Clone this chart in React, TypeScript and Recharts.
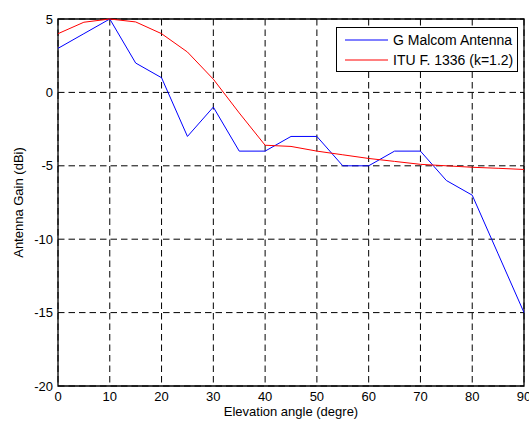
import React from 'react';
import {
  LineChart,
  Line,
  XAxis,
  YAxis,
  CartesianGrid,
  Legend,
  ReferenceArea
} from 'recharts';

const malcomAngles = [0, 5, 10, 15, 20, 25, 30, 35, 40, 45, 50, 55, 60, 65, 70, 75, 80, 85, 90];
const malcomGain = [3, 4, 5, 2, 1, -3, -1, -4, -4, -3, -3, -5, -5, -4, -4, -6, -7, -11, -15];

// ITU-R F.1336 reference pattern
const ituAngles = [0, 5, 10, 15, 20, 25, 30, 35, 40, 45, 50, 55, 60, 65, 70, 75, 80, 85, 90];
const ituGain = [4, 4.78, 5, 4.8, 4, 2.75, 0.9, -1.4, -3.6, -3.68, -4.0, -4.25, -4.5, -4.7, -4.9, -5.0, -5.1, -5.17, -5.25];

const xTicks = [0, 10, 20, 30, 40, 50, 60, 70, 80, 90];
const yTicks = [-20, -15, -10, -5, 0, 5];

const malcomData = malcomAngles.map((angle, i) => ({ angle, gain: malcomGain[i] }));
const ituData = ituAngles.map((angle, i) => ({ angle, gain: ituGain[i] }));

const FONT = '"Liberation Sans", Arial, Helvetica, sans-serif';

const LegendBox = ({ payload }: any) => (
  <div
    style={{
      width: 182,
      height: 45,
      boxSizing: 'border-box',
      border: '1px solid #000',
      background: '#fff',
      paddingTop: 2,
      fontFamily: FONT,
      fontSize: 14,
      color: '#000'
    }}
  >
    {(payload || []).map((p: any) => (
      <div key={p.value} style={{ display: 'flex', alignItems: 'center', height: 20 }}>
        <svg width={43} height={4} style={{ marginLeft: 8, marginRight: 5 }}>
          <line x1={0} y1={2} x2={43} y2={2} stroke={p.color} strokeWidth={1} />
        </svg>
        <span style={{ whiteSpace: 'nowrap' }}>{p.value}</span>
      </div>
    ))}
  </div>
);

const YLabel = ({ viewBox }: any) => {
  const x = viewBox.x + 23;
  const y = viewBox.y + viewBox.height / 2;
  return (
    <text x={x} y={y} transform={`rotate(-90, ${x}, ${y})`} textAnchor="middle" fontSize={13} fill="#000" fontFamily={FONT}>
      Antenna Gain (dBi)
    </text>
  );
};

export default function App() {
  return (
    <div style={{ position: 'absolute', left: 0, top: 0, width: 529, height: 421, background: '#fff', fontFamily: FONT }}>
      <LineChart width={529} height={421} margin={{ top: 19, right: 5, left: 0, bottom: 0 }}>
        <CartesianGrid stroke="#000" strokeDasharray="6.5 4" strokeWidth={1} />
        <XAxis
          dataKey="angle"
          type="number"
          domain={[0, 90]}
          ticks={xTicks}
          interval={0}
          allowDuplicatedCategory={false}
          height={35}
          tickLine={false}
          axisLine={false}
          tickSize={5}
          tickMargin={1}
          tick={{ fill: '#000', fontSize: 13, fontFamily: FONT }}
          label={{ value: 'Elevation angle (degre)', position: 'insideBottom', offset: 5.5, fill: '#000', fontSize: 13, fontFamily: FONT }}
        />
        <YAxis
          type="number"
          domain={[-20, 5]}
          ticks={yTicks}
          interval={0}
          width={58}
          tickLine={false}
          axisLine={false}
          tickSize={5}
          tickMargin={0}
          tick={{ fill: '#000', fontSize: 13, fontFamily: FONT }}
          label={{ content: YLabel }}
        />
        <ReferenceArea x1={0} x2={90} y1={-20} y2={5} fill="none" stroke="#000" strokeWidth={1.3} ifOverflow="visible" />
        <Legend
          layout="horizontal"
          verticalAlign="middle"
          align="center"
          wrapperStyle={{ position: 'absolute', top: 27, left: 336, width: 182 }}
          content={<LegendBox />}
        />
        <Line
          data={malcomData}
          dataKey="gain"
          name="G Malcom Antenna"
          stroke="#0000ff"
          strokeWidth={1}
          dot={false}
          activeDot={false}
          type="linear"
          isAnimationActive={false}
        />
        <Line
          data={ituData}
          dataKey="gain"
          name="ITU F. 1336 (k=1.2)"
          stroke="#ff0000"
          strokeWidth={1}
          dot={false}
          activeDot={false}
          type="linear"
          isAnimationActive={false}
        />
      </LineChart>
    </div>
  );
}
